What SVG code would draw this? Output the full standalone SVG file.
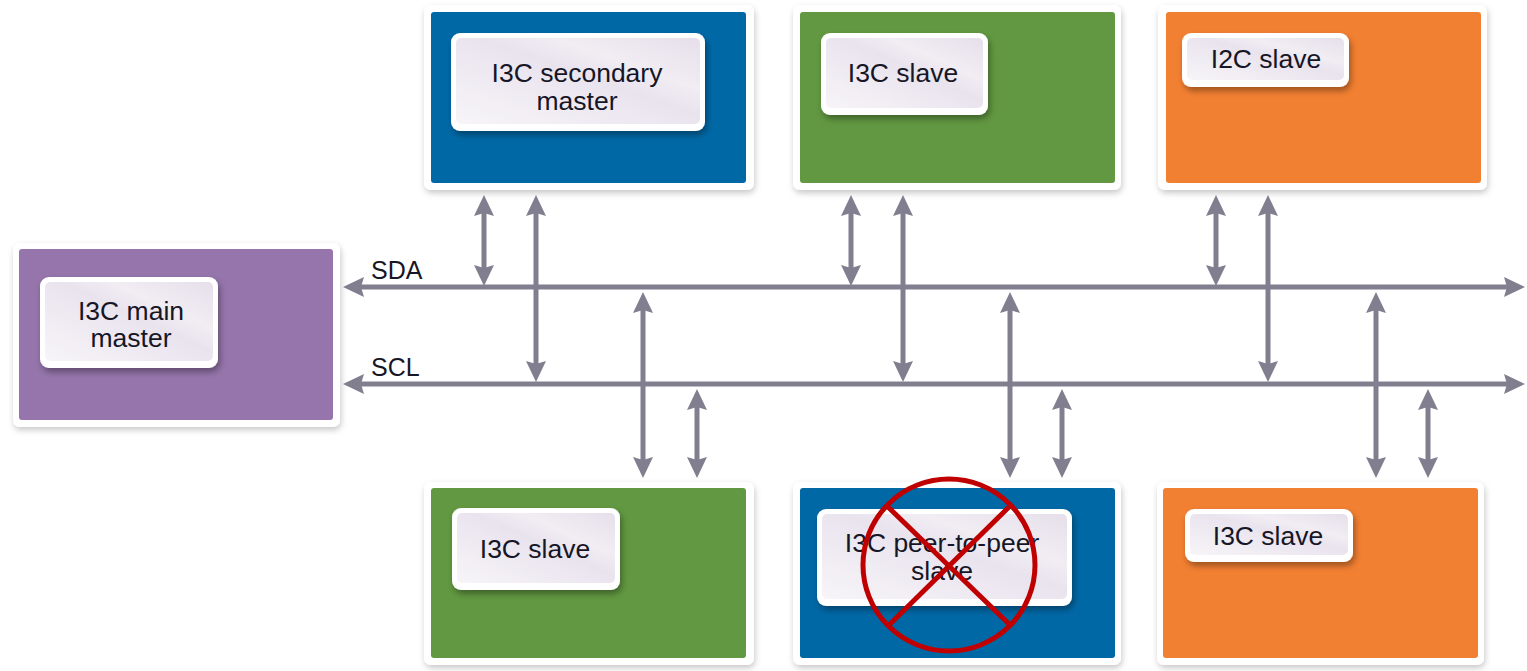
<svg xmlns="http://www.w3.org/2000/svg" width="1527" height="671" viewBox="0 0 1527 671">
  <style>
    .frame { fill: #ffffff; filter: url(#shadow); }
    .lbl-out { fill: #ffffff; filter: url(#lshadow); }
    .lbl-in { fill: url(#lgrad); }
    .txt { font-family: "Liberation Sans", Arial, sans-serif; font-size: 26.5px; fill: #161626; text-anchor: middle; }
    .bus { font-family: "Liberation Sans", Arial, sans-serif; font-size: 25px; fill: #161626; }
    .wire { stroke: #817f8f; stroke-width: 5; fill: none; marker-start: url(#ah); marker-end: url(#ah); }
    .blue { fill: #0168a6; }
    .green { fill: #629841; }
    .orange { fill: #f28032; }
    .purple { fill: #9575ab; }
  </style>
  <defs>
    <filter id="shadow" x="-10%" y="-10%" width="120%" height="125%">
      <feDropShadow dx="1" dy="3" stdDeviation="3" flood-color="#000000" flood-opacity="0.22"/>
    </filter>
    <filter id="lshadow" x="-10%" y="-15%" width="125%" height="140%">
      <feDropShadow dx="2" dy="4" stdDeviation="3" flood-color="#000000" flood-opacity="0.35"/>
    </filter>
    <linearGradient id="lgrad" x1="0" y1="1" x2="1" y2="0">
      <stop offset="0" stop-color="#f7f5f8"/>
      <stop offset="0.55" stop-color="#e9e3ee"/>
      <stop offset="0.7" stop-color="#f1edf3"/>
      <stop offset="1" stop-color="#e6dfeb"/>
    </linearGradient>
    <marker id="ah" markerUnits="userSpaceOnUse" markerWidth="26" markerHeight="24" viewBox="0 -12 26 24" refX="6" refY="0" orient="auto-start-reverse">
      <path d="M0,-10 L21,0 L0,10 L3,0 Z" fill="#817f8f"/>
    </marker>
  </defs>

  <g id="node-secondary-master">
    <rect class="frame" x="424" y="5" width="330" height="185" rx="7"/>
    <rect class="blue" x="431" y="12" width="315" height="171" rx="3"/>
    <rect class="lbl-out" x="451" y="33" width="254" height="98" rx="9"/>
    <rect class="lbl-in" x="456" y="38" width="244" height="86" rx="5"/>
    <text class="txt" x="577" y="82">I3C secondary</text>
    <text class="txt" x="577" y="110">master</text>
  </g>

  <g id="node-i3c-slave-top">
    <rect class="frame" x="793" y="5" width="328" height="185" rx="7"/>
    <rect class="green" x="800" y="12" width="315" height="171" rx="3"/>
    <rect class="lbl-out" x="821" y="33" width="167" height="82" rx="9"/>
    <rect class="lbl-in" x="826" y="38" width="157" height="70" rx="5"/>
    <text class="txt" x="903" y="82">I3C slave</text>
  </g>

  <g id="node-i2c-slave">
    <rect class="frame" x="1158" y="5" width="329" height="185" rx="7"/>
    <rect class="orange" x="1166" y="12" width="315" height="171" rx="3"/>
    <rect class="lbl-out" x="1182" y="33" width="167" height="54" rx="9"/>
    <rect class="lbl-in" x="1187" y="38" width="157" height="42" rx="5"/>
    <text class="txt" x="1266" y="68">I2C slave</text>
  </g>

  <g id="node-main-master">
    <rect class="frame" x="13" y="243" width="327" height="184" rx="7"/>
    <rect class="purple" x="19" y="249" width="314" height="171" rx="3"/>
    <rect class="lbl-out" x="40" y="277" width="178" height="91" rx="9"/>
    <rect class="lbl-in" x="45" y="282" width="168" height="79" rx="5"/>
    <text class="txt" x="131" y="320">I3C main</text>
    <text class="txt" x="131" y="347">master</text>
  </g>

  <g id="node-i3c-slave-bottom-left">
    <rect class="frame" x="424" y="482" width="330" height="183" rx="7"/>
    <rect class="green" x="431" y="488" width="315" height="170" rx="3"/>
    <rect class="lbl-out" x="452" y="508" width="168" height="82" rx="9"/>
    <rect class="lbl-in" x="457" y="513" width="158" height="70" rx="5"/>
    <text class="txt" x="535" y="558">I3C slave</text>
  </g>

  <g id="node-peer-to-peer-slave">
    <rect class="frame" x="793" y="482" width="328" height="183" rx="7"/>
    <rect class="blue" x="800" y="488" width="315" height="170" rx="3"/>
    <rect class="lbl-out" x="817" y="509" width="255" height="97" rx="9"/>
    <rect class="lbl-in" x="822" y="514" width="245" height="85" rx="5"/>
    <text class="txt" x="942" y="552">I3C peer-to-peer</text>
    <text class="txt" x="942" y="580">slave</text>
  </g>

  <g id="node-i3c-slave-bottom-right">
    <rect class="frame" x="1157" y="482" width="327" height="183" rx="7"/>
    <rect class="orange" x="1163" y="488" width="315" height="170" rx="3"/>
    <rect class="lbl-out" x="1185" y="509" width="168" height="53" rx="9"/>
    <rect class="lbl-in" x="1190" y="514" width="158" height="41" rx="5"/>
    <text class="txt" x="1268" y="545">I3C slave</text>
  </g>

  <g id="connectors">
    <line class="wire" x1="358" y1="287" x2="1510" y2="287"/>
    <line class="wire" x1="358" y1="384" x2="1510" y2="384"/>
    <line class="wire" x1="484" y1="210" x2="484" y2="271"/>
    <line class="wire" x1="536" y1="210" x2="536" y2="367"/>
    <line class="wire" x1="851" y1="210" x2="851" y2="271"/>
    <line class="wire" x1="903" y1="210" x2="903" y2="367"/>
    <line class="wire" x1="1216" y1="210" x2="1216" y2="271"/>
    <line class="wire" x1="1268" y1="210" x2="1268" y2="367"/>
    <line class="wire" x1="643" y1="307" x2="643" y2="463"/>
    <line class="wire" x1="697" y1="404" x2="697" y2="463"/>
    <line class="wire" x1="1010" y1="307" x2="1010" y2="463"/>
    <line class="wire" x1="1062" y1="404" x2="1062" y2="463"/>
    <line class="wire" x1="1376" y1="307" x2="1376" y2="463"/>
    <line class="wire" x1="1428" y1="404" x2="1428" y2="463"/>
    <text class="bus" x="371" y="279">SDA</text>
    <text class="bus" x="371" y="376">SCL</text>
  </g>

  <g id="cross-out" fill="none" stroke="#c00000" stroke-width="5">
    <circle cx="949" cy="565" r="86"/>
    <line x1="888" y1="507" x2="1010" y2="625"/>
    <line x1="1009" y1="507" x2="889" y2="625"/>
  </g>
</svg>
